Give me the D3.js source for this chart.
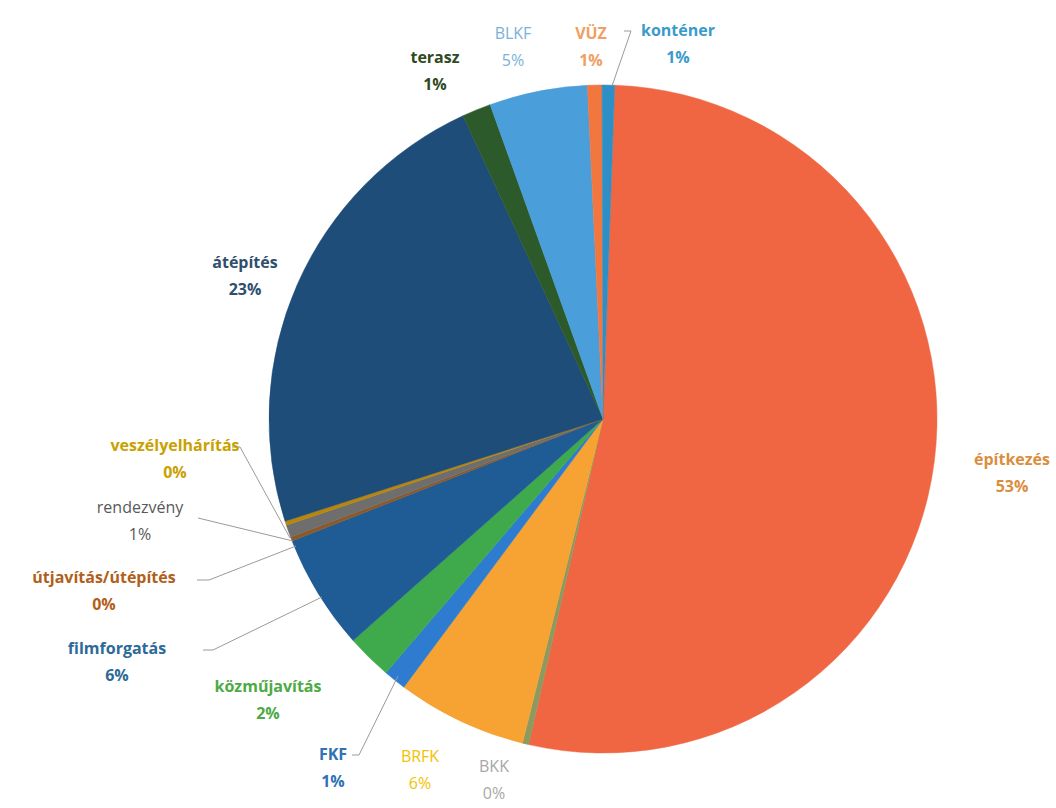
<!DOCTYPE html>
<html>
<head>
<meta charset="utf-8">
<script src="https://cdn.jsdelivr.net/npm/d3@7"></script>
<style>
body { margin:0; background:#fff; }
text { font-family: "Open Sans", "Noto Sans", sans-serif; }
</style>
</head>
<body>
<script>
var width = 1056;
var height = 808;

// slices, clockwise from 12 o'clock
var categories = ["építkezés","BKK","BRFK","FKF","közműjavítás","filmforgatás",
                  "útjavítás/útépítés","rendezvény","veszélyelhárítás","átépítés",
                  "terasz","BLKF","VÜZ","konténer"];
var values = [53.1, 0.3, 6.3, 1.1, 2.2, 5.6, 0.2, 0.6, 0.2, 23.1, 1.4, 4.75, 0.7, 0.6];
var sliceColors = ["#F06642","#8C9A60","#F7A333","#2E7CCF","#3FAA4B","#1F5B95",
                   "#8B5A2B","#6E6E6E","#B8860B","#1F4D7A",
                   "#2D5A2B","#4A9FDA","#F2773F","#2E8EC6"];
var labelColors = ["#D98E3E","#A8A8A8","#F2C200","#2F72B5","#4DAA45","#2C6A98",
                   "#B0601A","#595959","#C9A100","#2F4F6E",
                   "#2F4A1F","#79B2D8","#F0A062","#3A9BCB"];
var boldLabel = [true,false,false,true,true,true,true,false,true,true,true,false,true,true];

// label placement (text centre) and leader lines
var labelPos = {
  "építkezés":[1012,459], "BKK":[494,766], "BRFK":[420,756], "FKF":[333,754],
  "közműjavítás":[268,686], "filmforgatás":[117,648], "útjavítás/útépítés":[104,577],
  "rendezvény":[140,507], "veszélyelhárítás":[175,445], "átépítés":[245,262],
  "terasz":[435,57], "BLKF":[513,33], "VÜZ":[591,33], "konténer":[678,30]
};
var leaders = {
  "konténer":[[624,31],[631,31],[612,86]],
  "veszélyelhárítás":[[232,447],[240,447],[290,538]],
  "rendezvény":[[198,518],[293,541]],
  "útjavítás/útépítés":[[197,580],[209,580],[296,546]],
  "filmforgatás":[[203,650],[213,650],[322,597]],
  "FKF":[[352,755],[359,755],[398,676]]
};

var cx = 603, cy = 419, r = 334;
var startDeg = 2;

var svg = d3.select("body").append("svg")
            .attr("width", width)
            .attr("height", height);

var pie = d3.pie().sort(null)
            .startAngle(startDeg * Math.PI / 180)
            .endAngle((startDeg + 360) * Math.PI / 180);
var arc = d3.arc().innerRadius(0).outerRadius(r);

var total = d3.sum(values);
var arcs = pie(values);

var g = svg.append("g").attr("transform", "translate(" + cx + "," + cy + ")");
g.selectAll("path")
 .data(arcs)
 .enter()
 .append("path")
 .attr("d", arc)
 .attr("fill", function(d, i){ return sliceColors[i]; })
 .attr("stroke", function(d, i){ return sliceColors[i]; })
 .attr("stroke-width", 0.5);

var line = d3.line();
svg.append("g").selectAll("path")
   .data(Object.keys(leaders))
   .enter()
   .append("path")
   .attr("d", function(k){ return line(leaders[k]); })
   .attr("fill", "none")
   .attr("stroke", "#9a9a9a")
   .attr("stroke-width", 1);

var lab = svg.append("g").selectAll("g")
   .data(categories)
   .enter()
   .append("g")
   .attr("transform", function(c){ return "translate(" + labelPos[c][0] + "," + labelPos[c][1] + ")"; });

lab.append("text")
   .attr("text-anchor", "middle")
   .attr("font-size", 16)
   .attr("font-weight", function(c, i){ return boldLabel[i] ? "bold" : "normal"; })
   .attr("fill", function(c, i){ return labelColors[i]; })
   .attr("y", 6)
   .text(function(c){ return c; });

lab.append("text")
   .attr("text-anchor", "middle")
   .attr("font-size", 16)
   .attr("font-weight", function(c, i){ return boldLabel[i] ? "bold" : "normal"; })
   .attr("fill", function(c, i){ return labelColors[i]; })
   .attr("y", 33)
   .text(function(c, i){ return Math.round(values[i] / total * 100) + "%"; });
</script>
</body>
</html>
